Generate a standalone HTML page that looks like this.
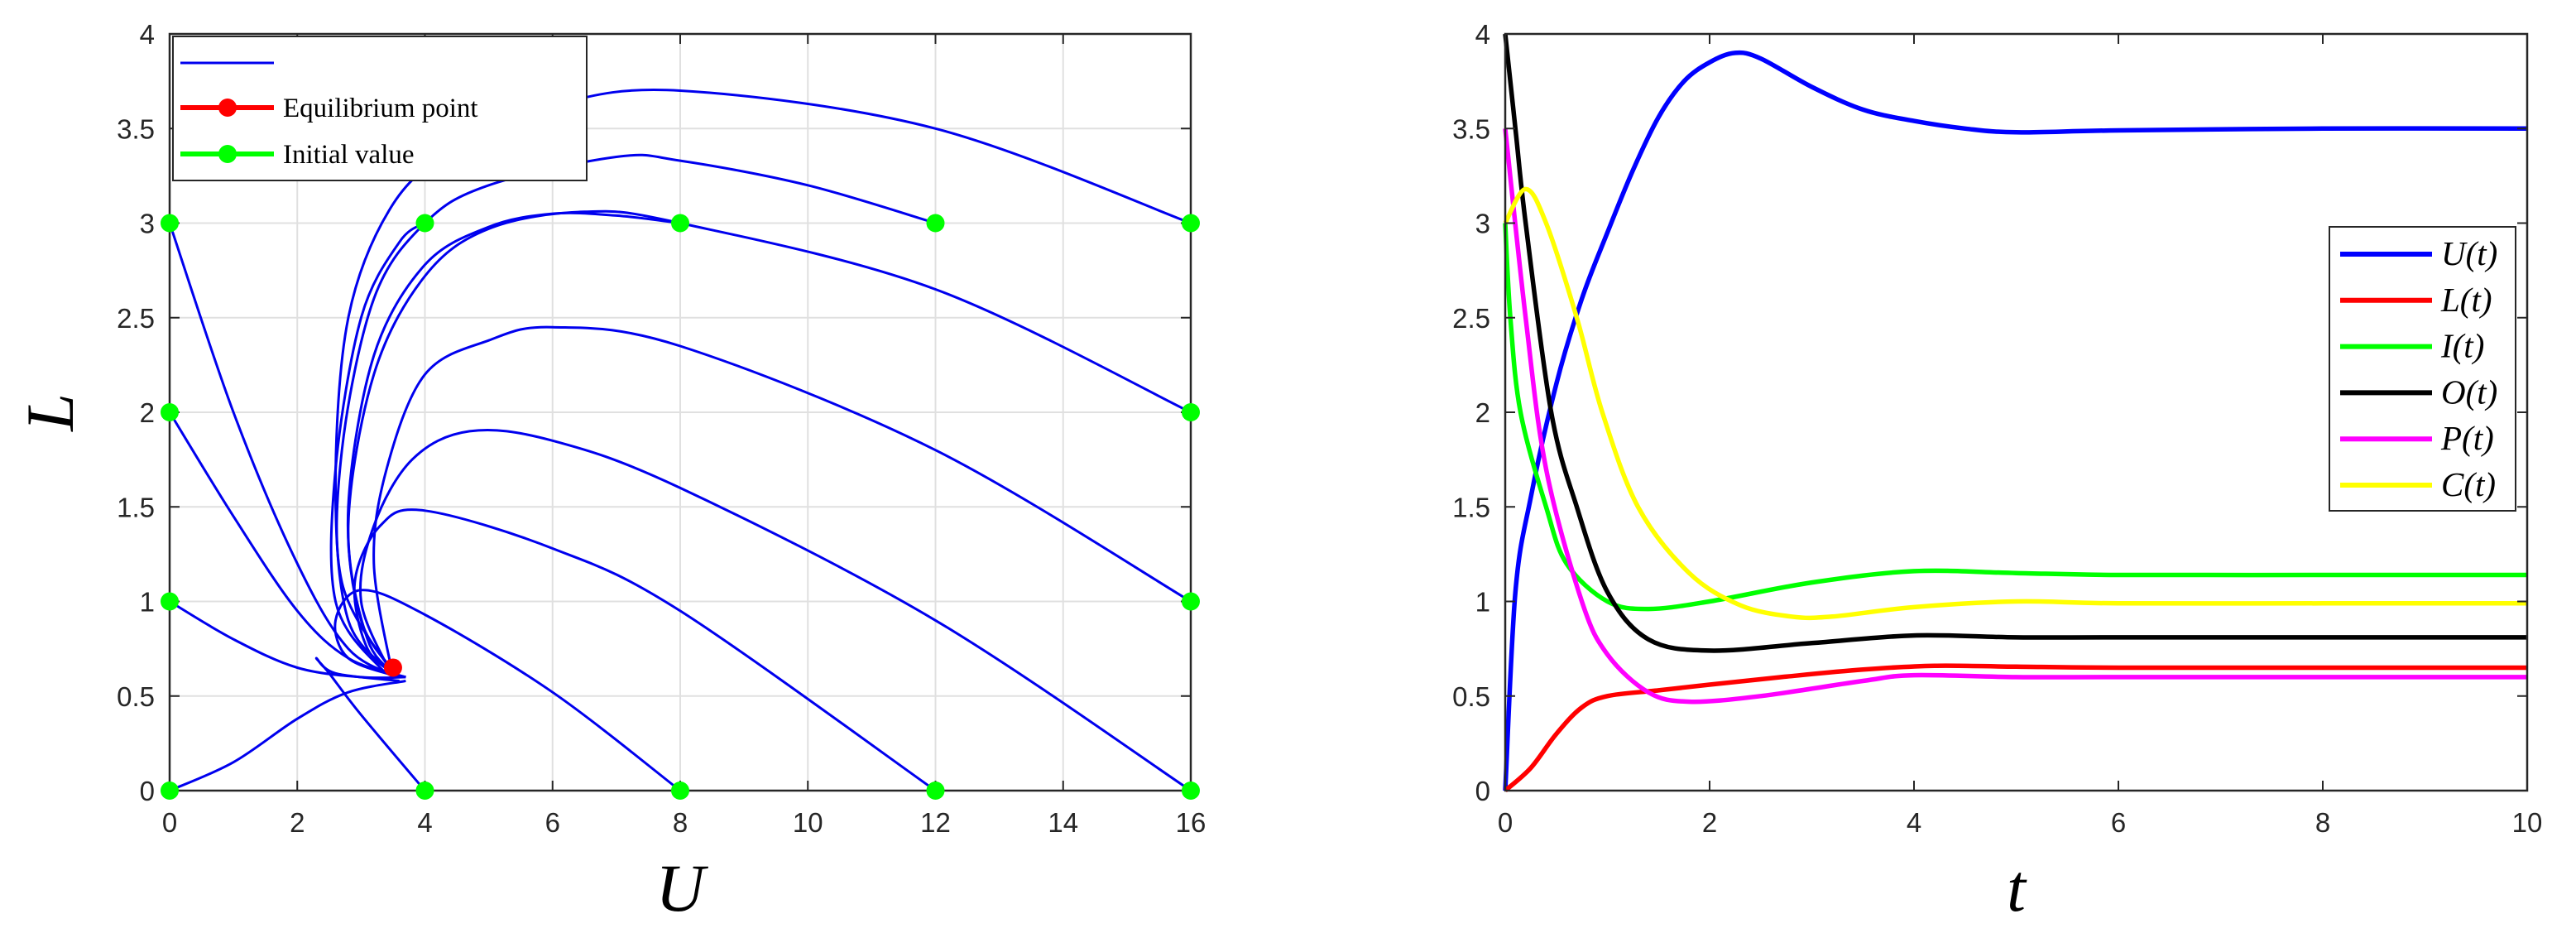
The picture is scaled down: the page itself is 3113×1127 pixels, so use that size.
<!DOCTYPE html>
<html><head><meta charset="utf-8"><style>
html,body{margin:0;padding:0;background:#fff;}
svg{display:block;}
.tk{font-family:"Liberation Sans",Arial,sans-serif;font-size:33px;fill:#262626;}
.lab{font-family:"Liberation Serif",serif;font-style:italic;font-size:82px;fill:#000;}
.lg{font-family:"Liberation Serif",serif;font-size:33px;fill:#000;}
.lg2{font-family:"Liberation Serif",serif;font-style:italic;font-size:41px;fill:#000;}
</style></head><body>
<svg id="fig" width="3113" height="1127" viewBox="0 0 3113 1127" xmlns="http://www.w3.org/2000/svg">
<g id="left"></g>
<g id="right"></g>
</svg>
<script>
// ---- Left chart data ----
const phaseXTicks = [0,2,4,6,8,10,12,14,16];
const phaseYTicks = [0,0.5,1,1.5,2,2.5,3,3.5,4];
const phaseYTickLabels = ["0","0.5","1","1.5","2","2.5","3","3.5","4"];
const equilibrium = [3.5,0.65];
const initialValues = [[0,0],[0,1],[0,2],[0,3],[4,0],[8,0],[12,0],[16,0],[4,3],[8,3],[12,3],[16,3],[16,1],[16,2]];
const traj16_3 = [[16,3],[12,3.5],[8,3.7],[6,3.62],[4.5,3.4],[3.5,3.1],[2.8,2.5],[2.6,1.6],[2.8,0.9],[3.5,0.62]];
const traj12_3 = [[12,3],[10,3.2],[8,3.33],[7,3.35],[5,3.2],[4,3.0],[3.2,2.6],[2.7,1.8],[2.7,1.1],[3.5,0.62]];
const traj16_2 = [[16,2],[12,2.65],[8,3.0],[6.5,3.06],[5,2.97],[4,2.72],[3.2,2.2],[2.8,1.4],[3.1,0.8],[3.6,0.6]];
const traj8_3 = [[8,3],[7,3.04],[6,3.05],[5,2.98],[4,2.78],[3.2,2.3],[2.8,1.5],[3.0,0.9],[3.6,0.6]];
const traj4_3 = [[4,3],[3.6,2.9],[3,2.5],[2.6,1.7],[2.6,1.0],[3.3,0.65],[3.7,0.6]];
const traj16_1 = [[16,1],[12,1.8],[8,2.35],[6,2.45],[5,2.38],[4,2.2],[3.4,1.7],[3.2,1.2],[3.5,0.6]];
const traj16_0 = [[16,0],[12,0.9],[8,1.6],[6,1.85],[4.7,1.9],[3.8,1.75],[3.2,1.4],[3.0,1.0],[3.5,0.6]];
const traj12_0 = [[12,0],[8,0.95],[6,1.28],[4,1.48],[3.3,1.4],[2.9,1.1],[3.1,0.75],[3.6,0.6]];
const traj8_0 = [[8,0],[6,0.52],[4,0.93],[3,1.06],[2.6,0.9],[2.8,0.7],[3.6,0.6]];
const traj4_0 = [[4,0],[3,0.4],[2.5,0.62],[2.3,0.7],[2.6,0.62],[3.6,0.58]];
const traj0_0 = [[0,0],[1,0.15],[2,0.38],[2.8,0.52],[3.7,0.58]];
const traj0_1 = [[0,1],[1,0.8],[2,0.65],[3,0.6],[3.7,0.6]];
const traj0_2 = [[0,2],[1,1.45],[2,0.95],[2.8,0.7],[3.7,0.6]];
const traj0_3 = [[0,3],[1,2.0],[2,1.2],[2.8,0.75],[3.6,0.6]];
const trajectories = [traj16_3,traj12_3,traj16_2,traj8_3,traj4_3,traj16_1,traj16_0,traj12_0,traj8_0,traj4_0,traj0_0,traj0_1,traj0_2,traj0_3];

// ---- Right chart data ----
const timeXTicks = [0,2,4,6,8,10];
const timeYTicks = [0,0.5,1,1.5,2,2.5,3,3.5,4];
const seriesNames = ["U(t)","L(t)","I(t)","O(t)","P(t)","C(t)"];
const seriesU = [[0,0],[0.1,1.05],[0.25,1.55],[0.5,2.15],[0.75,2.6],[1,2.95],[1.25,3.28],[1.5,3.56],[1.75,3.75],[2,3.85],[2.25,3.9],[2.5,3.87],[3,3.72],[3.5,3.6],[4,3.54],[4.5,3.5],[5,3.48],[6,3.49],[8,3.5],[10,3.5]];
const seriesL = [[0,0],[0.25,0.12],[0.5,0.3],[0.75,0.44],[1,0.5],[1.5,0.53],[2,0.56],[2.7,0.6],[3.5,0.64],[4.2,0.66],[5,0.655],[6,0.65],[8,0.65],[10,0.65]];
const seriesI = [[0,3],[0.05,2.5],[0.15,2.0],[0.4,1.5],[0.6,1.2],[1,1.0],[1.4,0.96],[2,1.0],[3,1.1],[4,1.16],[5,1.15],[6,1.14],[8,1.14],[10,1.14]];
const seriesO = [[0,4],[0.1,3.5],[0.2,3.0],[0.45,2.0],[0.7,1.5],[1,1.05],[1.4,0.8],[2,0.74],[3,0.78],[4,0.82],[5,0.81],[6,0.81],[8,0.81],[10,0.81]];
const seriesP = [[0,3.5],[0.2,2.5],[0.4,1.7],[0.75,1.0],[1,0.72],[1.4,0.52],[1.8,0.47],[2.5,0.5],[3.5,0.58],[4,0.61],[5,0.6],[6,0.6],[8,0.6],[10,0.6]];
const seriesC = [[0,3],[0.2,3.18],[0.4,3.0],[0.7,2.5],[0.95,2.0],[1.3,1.5],[1.8,1.15],[2.3,0.98],[2.8,0.92],[3.2,0.92],[4,0.97],[5,1.0],[6,0.99],[8,0.99],[10,0.99]];
const seriesData = [seriesU,seriesL,seriesI,seriesO,seriesP,seriesC];
const seriesColors = ["#0000ff","#ff0000","#00ff00","#000000","#ff00ff","#ffff00"];

const NS="http://www.w3.org/2000/svg";
function mk(tag,attrs,parent){const e=document.createElementNS(NS,tag);for(const k in attrs)e.setAttribute(k,attrs[k]);parent.appendChild(e);return e;}
function smooth(pts){
  let d="M"+pts[0][0].toFixed(1)+","+pts[0][1].toFixed(1);
  for(let i=0;i<pts.length-1;i++){
    const p0=pts[Math.max(0,i-1)],p1=pts[i],p2=pts[i+1],p3=pts[Math.min(pts.length-1,i+2)];
    const c1=[p1[0]+(p2[0]-p0[0])/6,p1[1]+(p2[1]-p0[1])/6];
    const c2=[p2[0]-(p3[0]-p1[0])/6,p2[1]-(p3[1]-p1[1])/6];
    d+=" C"+c1[0].toFixed(1)+","+c1[1].toFixed(1)+" "+c2[0].toFixed(1)+","+c2[1].toFixed(1)+" "+p2[0].toFixed(1)+","+p2[1].toFixed(1);
  }
  return d;
}

// ---- Left chart ----
const L=document.getElementById('left');
const lx0=205,lx1=1439,ly0=41,ly1=955;
const lsx=v=>lx0+(v-0)/16*(lx1-lx0);
const lsy=v=>ly1-(v-0)/4*(ly1-ly0);
phaseXTicks.forEach(v=>{
  const g=mk('line',{x1:lsx(v),x2:lsx(v),y1:ly0,y2:ly1,stroke:'#e0e0e0','stroke-width':2},L);
  
  
});
phaseYTicks.forEach(v=>{
  const g=mk('line',{x1:lx0,x2:lx1,y1:lsy(v),y2:lsy(v),stroke:'#e0e0e0','stroke-width':2},L);
  
  
});
trajectories.forEach(tr=>{
  const p=mk('path',{d:smooth(tr.map(q=>[lsx(q[0]),lsy(q[1])])),fill:'none',stroke:'#0000ee','stroke-width':3},L);
  
  
});
const lb=mk('rect',{x:lx0,y:ly0,width:lx1-lx0,height:ly1-ly0,fill:'none',stroke:'#262626','stroke-width':2.5},L);


phaseXTicks.forEach(v=>{
  mk('line',{x1:lsx(v),x2:lsx(v),y1:ly1,y2:ly1-12,stroke:'#262626','stroke-width':2},L);
  mk('line',{x1:lsx(v),x2:lsx(v),y1:ly0,y2:ly0+12,stroke:'#262626','stroke-width':2},L);
  const t=mk('text',{x:lsx(v),y:ly1+50,'text-anchor':'middle',class:'tk'},L);t.textContent=v;
  
  
});
phaseYTicks.forEach((v,i)=>{
  mk('line',{x1:lx0,x2:lx0+12,y1:lsy(v),y2:lsy(v),stroke:'#262626','stroke-width':2},L);
  mk('line',{x1:lx1,x2:lx1-12,y1:lsy(v),y2:lsy(v),stroke:'#262626','stroke-width':2},L);
  const t=mk('text',{x:lx0-18,y:lsy(v)+12,'text-anchor':'end',class:'tk'},L);t.textContent=phaseYTickLabels[i];
  
  
});
initialValues.forEach(q=>{
  const c=mk('circle',{cx:lsx(q[0]),cy:lsy(q[1]),r:11,fill:'#00ff00'},L);
  
  
});
const eq=mk('circle',{cx:lsx(equilibrium[0]),cy:lsy(equilibrium[1]),r:11,fill:'#ff0000'},L);


const xl=mk('text',{x:(lx0+lx1)/2,y:1100,'text-anchor':'middle',class:'lab'},L);xl.textContent='U';


const yl=mk('text',{x:0,y:0,'text-anchor':'middle',class:'lab',transform:'translate(88,498) rotate(-90)'},L);yl.textContent='L';


const lg=mk('g',{},L);


mk('rect',{x:209,y:44,width:500,height:174,fill:'#fff',stroke:'#262626','stroke-width':2},lg);
mk('line',{x1:218,x2:331,y1:76,y2:76,stroke:'#0000ee','stroke-width':3},lg);
mk('line',{x1:218,x2:331,y1:130,y2:130,stroke:'#ff0000','stroke-width':6},lg);
mk('circle',{cx:275,cy:130,r:11,fill:'#ff0000'},lg);
mk('line',{x1:218,x2:331,y1:186,y2:186,stroke:'#00ff00','stroke-width':6},lg);
mk('circle',{cx:275,cy:186,r:11,fill:'#00ff00'},lg);
const t1=mk('text',{x:342,y:141,class:'lg'},lg);t1.textContent='Equilibrium point';


const t2=mk('text',{x:342,y:197,class:'lg'},lg);t2.textContent='Initial value';



// ---- Right chart ----
const R=document.getElementById('right');
const rx0=1819,rx1=3054,ry0=41,ry1=955;
const rsx=v=>rx0+v/10*(rx1-rx0);
const rsy=v=>ry1-v/4*(ry1-ry0);
seriesData.forEach((s,i)=>{
  const p=mk('path',{d:smooth(s.map(q=>[rsx(q[0]),rsy(q[1])])),fill:'none',stroke:seriesColors[i],'stroke-width':5.5},R);
  
  
});
const rb=mk('rect',{x:rx0,y:ry0,width:rx1-rx0,height:ry1-ry0,fill:'none',stroke:'#262626','stroke-width':2.5},R);


timeXTicks.forEach(v=>{
  mk('line',{x1:rsx(v),x2:rsx(v),y1:ry1,y2:ry1-12,stroke:'#262626','stroke-width':2},R);
  mk('line',{x1:rsx(v),x2:rsx(v),y1:ry0,y2:ry0+12,stroke:'#262626','stroke-width':2},R);
  const t=mk('text',{x:rsx(v),y:ry1+50,'text-anchor':'middle',class:'tk'},R);t.textContent=v;
  
  
});
timeYTicks.forEach((v,i)=>{
  mk('line',{x1:rx0,x2:rx0+12,y1:rsy(v),y2:rsy(v),stroke:'#262626','stroke-width':2},R);
  mk('line',{x1:rx1,x2:rx1-12,y1:rsy(v),y2:rsy(v),stroke:'#262626','stroke-width':2},R);
  const t=mk('text',{x:rx0-18,y:rsy(v)+12,'text-anchor':'end',class:'tk'},R);t.textContent=phaseYTickLabels[i];
  
  
});
const tl=mk('text',{x:(rx0+rx1)/2,y:1100,'text-anchor':'middle',class:'lab'},R);tl.textContent='t';


const lg2=mk('g',{},R);


mk('rect',{x:2815,y:274,width:225,height:343,fill:'#fff',stroke:'#262626','stroke-width':2},lg2);
seriesNames.forEach((n,i)=>{
  const y=307+i*55.8;
  mk('line',{x1:2828,x2:2939,y1:y,y2:y,stroke:seriesColors[i],'stroke-width':6},lg2);
  const t=mk('text',{x:2950,y:y+13,class:'lg2'},lg2);t.textContent=n;
  
  
});
</script>
</body></html>
